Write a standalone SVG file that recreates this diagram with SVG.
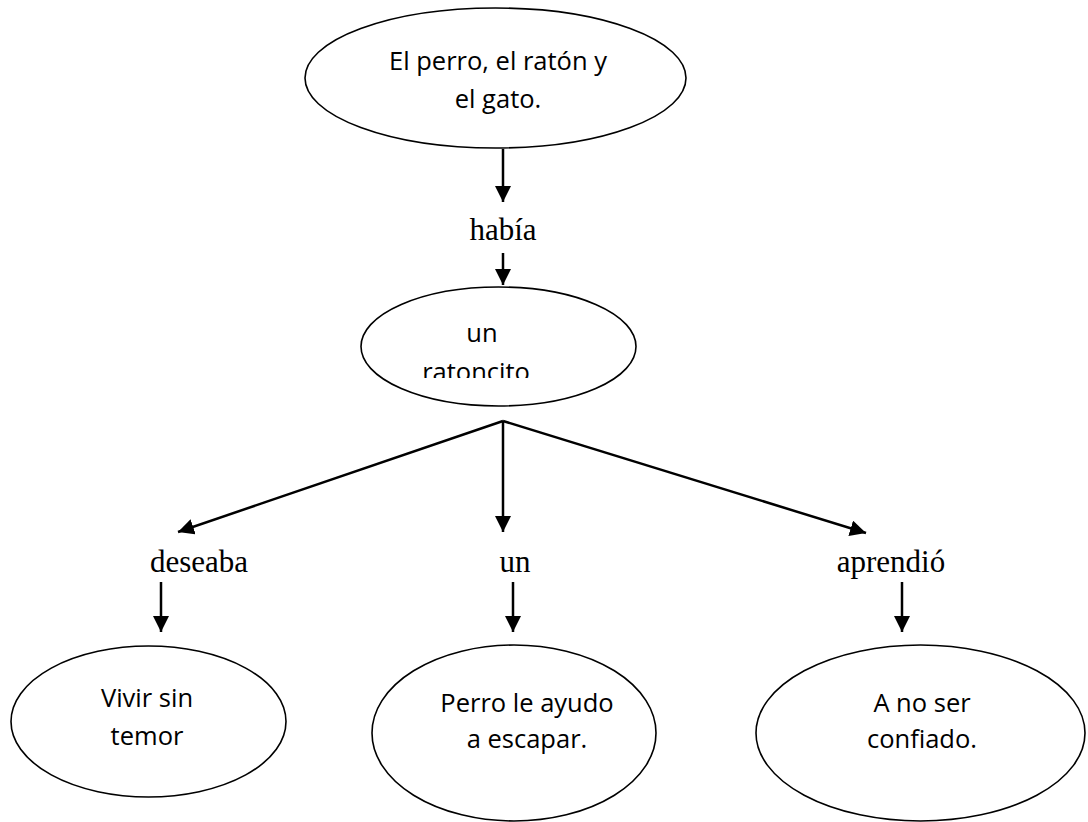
<svg xmlns="http://www.w3.org/2000/svg" width="1088" height="822" viewBox="0 0 1088 822">
<style>
.node{fill:#fff;stroke:#000;stroke-width:1.6}
.t{font-family:"Open Sans","Liberation Sans",sans-serif;font-size:25.5px;fill:#000;text-anchor:middle}
.lbl{font-family:"Liberation Serif","Times New Roman",serif;font-size:31px;fill:#000;text-anchor:middle}
.c{stroke:#000;stroke-width:2.5;fill:none;marker-end:url(#ah)}
</style>
<defs>
<marker id="ah" markerUnits="userSpaceOnUse" markerWidth="18" markerHeight="18" refX="16" refY="8" orient="auto">
<path d="M0,0 L16,8 L0,16 z" fill="#000"/>
</marker>
<clipPath id="clipR"><rect x="360" y="280" width="280" height="98"/></clipPath>
</defs>
<rect width="1088" height="822" fill="#fff"/>
<g id="connectors">
<line class="c" x1="503" y1="149" x2="503" y2="202"/>
<line class="c" x1="503" y1="253" x2="503" y2="285"/>
<line class="c" x1="503" y1="421" x2="178" y2="532"/>
<line class="c" x1="503" y1="421" x2="503" y2="532"/>
<line class="c" x1="503" y1="421" x2="866" y2="533"/>
<line class="c" x1="161" y1="582" x2="161" y2="632"/>
<line class="c" x1="513" y1="582" x2="513" y2="632"/>
<line class="c" x1="902" y1="582" x2="902" y2="632"/>
</g>
<g id="n-title">
<ellipse class="node" cx="495.5" cy="78" rx="190.5" ry="70"/>
<text class="t" x="498" y="70">El perro, el ratón y</text>
<text class="t" x="498" y="108">el gato.</text>
</g>
<g id="l-habia"><text class="lbl" x="503" y="240">había</text></g>
<g id="n-ratoncito">
<ellipse class="node" cx="498.5" cy="346.5" rx="137.5" ry="59.5"/>
<g clip-path="url(#clipR)">
<text class="t" x="482" y="342">un</text>
<text class="t" x="476" y="381">ratoncito</text>
</g>
</g>
<g id="l-deseaba"><text class="lbl" x="199" y="572">deseaba</text></g>
<g id="l-un"><text class="lbl" x="515" y="572">un</text></g>
<g id="l-aprendio"><text class="lbl" x="891" y="572">aprendió</text></g>
<g id="n-vivir">
<ellipse class="node" cx="148.5" cy="721.5" rx="137.5" ry="75.5"/>
<text class="t" x="147" y="707">Vivir sin</text>
<text class="t" x="147" y="745">temor</text>
</g>
<g id="n-perro">
<ellipse class="node" cx="514" cy="733" rx="142" ry="88"/>
<text class="t" x="527" y="712">Perro le ayudo</text>
<text class="t" x="527" y="748">a escapar.</text>
</g>
<g id="n-confiado">
<ellipse class="node" cx="920.5" cy="733" rx="164.5" ry="88"/>
<text class="t" x="922" y="712">A no ser</text>
<text class="t" x="922" y="748">confiado.</text>
</g>
</svg>
